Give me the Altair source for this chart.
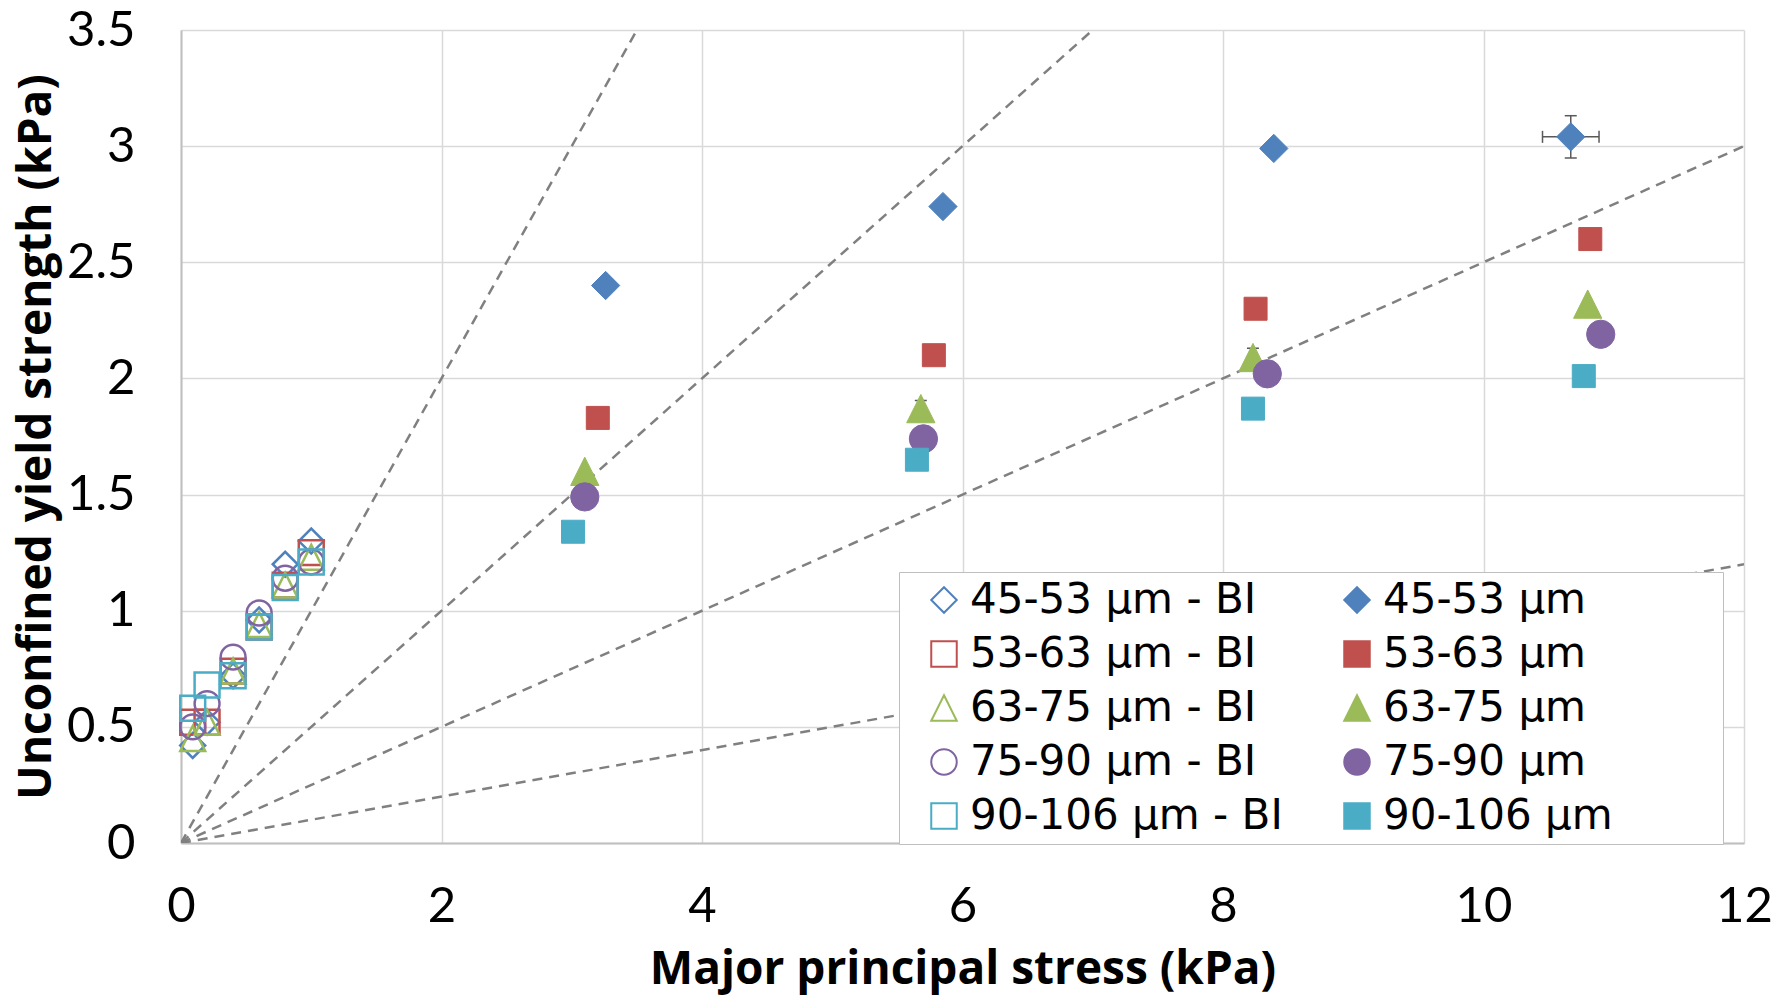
import altair as alt
import pandas as pd

FONT = "Lato"
TITLE_FONT = "Open Sans"
LEGEND_FONT = "DejaVu Sans"

# ---------------- data ----------------
sizes_bi = ["45-53 μm - BI", "53-63 μm - BI", "63-75 μm - BI", "75-90 μm - BI", "90-106 μm - BI"]
sizes_f = ["45-53 μm", "53-63 μm", "63-75 μm", "75-90 μm", "90-106 μm"]

# BI (open markers): major principal stress (kPa) and unconfined yield strength (kPa)
bi_stress = [0.09, 0.2, 0.4, 0.6, 0.8, 1.0]
bi_45 = [0.42, 0.52, 0.72, 0.96, 1.20, 1.30]
bi_53 = [0.52, 0.52, 0.74, 0.93, 1.11, 1.25]
bi_63 = [0.45, 0.52, 0.74, 0.94, 1.11, 1.23]
bi_75 = [0.50, 0.60, 0.80, 0.99, 1.14, 1.21]
bi_90 = [0.58, 0.68, 0.72, 0.93, 1.10, 1.21]

# filled markers
f45_x = [3.26, 5.85, 8.39, 10.67]
f45_y = [2.40, 2.74, 2.99, 3.04]
f53_x = [3.20, 5.78, 8.25, 10.82]
f53_y = [1.83, 2.10, 2.30, 2.60]
f63_x = [3.10, 5.68, 8.23, 10.80]
f63_y = [1.60, 1.87, 2.09, 2.32]
f75_x = [3.10, 5.70, 8.34, 10.90]
f75_y = [1.49, 1.74, 2.02, 2.19]
f90_x = [3.01, 5.65, 8.23, 10.77]
f90_y = [1.34, 1.65, 1.87, 2.01]

# error bars
exb_x = [10.67]
exb_y = [3.04]
exb_dx = [0.217]
eyb_x = [10.67, 5.68, 8.23]
eyb_y = [3.04, 1.87, 2.09]
eyb_dy = [0.091, 0.035, 0.04]

# flow function lines (ffc)
ffc_values = [1, 2, 4, 10]
X_MAX, Y_MAX = 12, 3.5

# ---------------- tables ----------------
rows = []
for name, ys in zip(sizes_bi, [bi_45, bi_53, bi_63, bi_75, bi_90]):
    for x, y in zip(bi_stress, ys):
        rows.append({"series": name, "stress": x, "strength": y})
open_df = pd.DataFrame(rows)

rows = []
for name, xs, ys in zip(sizes_f, [f45_x, f53_x, f63_x, f75_x, f90_x],
                        [f45_y, f53_y, f63_y, f75_y, f90_y]):
    for x, y in zip(xs, ys):
        rows.append({"series": name, "stress": x, "strength": y})
filled_df = pd.DataFrame(rows)

rows = []
for f in ffc_values:
    xe = min(X_MAX, Y_MAX * f)
    rows.append({"ffc": f, "stress": 0.0, "strength": 0.0})
    rows.append({"ffc": f, "stress": xe, "strength": xe / f})
line_df = pd.DataFrame(rows)

exb_df = pd.DataFrame({"y": exb_y, "lo": [a - d for a, d in zip(exb_x, exb_dx)],
                       "hi": [a + d for a, d in zip(exb_x, exb_dx)]})
eyb_df = pd.DataFrame({"x": eyb_x, "lo": [a - d for a, d in zip(eyb_y, eyb_dy)],
                       "hi": [a + d for a, d in zip(eyb_y, eyb_dy)]})

# ---------------- styles ----------------
colors = ["#4F81BD", "#C0504D", "#9BBB59", "#8064A2", "#4BACC6"]
TRI = "M0,-1L1,1L-1,1Z"
shapes = ["diamond", "square", TRI, "circle", "square"]

# legend is laid out column by column: BI series in column 1, others in column 2
legend_order = sizes_bi + sizes_f
stroke_range = colors + colors
fill_range = ["transparent"] * 5 + colors
shape_range = shapes + shapes

x_scale = alt.Scale(domain=[0, X_MAX], nice=False, zero=False)
y_scale = alt.Scale(domain=[0, Y_MAX], nice=False, zero=False)

x_axis = alt.Axis(values=[0, 2, 4, 6, 8, 10, 12], format="~g", title="Major principal stress (kPa)",
                  labelBaseline="alphabetic", labelPadding=78, labelFlush=False,
                  titleY=140, titleBaseline="alphabetic")
y_axis = alt.Axis(values=[0, 0.5, 1, 1.5, 2, 2.5, 3, 3.5], format="~g", labelFlush=False,
                  title="Unconfined yield strength (kPa)", labelPadding=46,
                  titleX=-131, titleBaseline="alphabetic")

X = alt.X("stress:Q", scale=x_scale, axis=x_axis)
Y = alt.Y("strength:Q", scale=y_scale, axis=y_axis)

# a blank (braille-blank) right-hand legend title only widens the frame, as in the original
leg = alt.Legend(title="\u2800", titleOrient="right", titlePadding=95, titleFontSize=10,
                 titleFont=LEGEND_FONT,
                 orient="none", legendX=718, legendY=542, columns=2,
                 gridAlign="each", fillColor="white", strokeColor="#bfbfbf",
                 padding=7, labelFontSize=42, labelFont=LEGEND_FONT, labelColor="black",
                 symbolSize=650, symbolStrokeWidth=2, symbolOffset=17,
                 rowPadding=12, columnPadding=36, labelOffset=5, labelLimit=0)

enc_common = dict(
    shape=alt.Shape("series:N", scale=alt.Scale(domain=legend_order, range=shape_range), legend=leg),
    fill=alt.Fill("series:N", scale=alt.Scale(domain=legend_order, range=fill_range), legend=leg),
    stroke=alt.Stroke("series:N", scale=alt.Scale(domain=legend_order, range=stroke_range), legend=leg),
)

lines = alt.Chart(line_df).mark_line(color="#808080", strokeWidth=2.5, strokeDash=[10, 7], clip=True).encode(
    x=X, y=Y, detail="ffc:N")

err_col = "#595959"
exb_rule = alt.Chart(exb_df).mark_rule(color=err_col, strokeWidth=1.5).encode(
    x=alt.X("lo:Q", scale=x_scale), x2="hi:Q", y=alt.Y("y:Q", scale=y_scale))
exb_cap_lo = alt.Chart(exb_df).mark_tick(orient="vertical", color=err_col, size=12, thickness=1.5, opacity=1).encode(
    x=alt.X("lo:Q", scale=x_scale), y=alt.Y("y:Q", scale=y_scale))
exb_cap_hi = alt.Chart(exb_df).mark_tick(orient="vertical", color=err_col, size=12, thickness=1.5, opacity=1).encode(
    x=alt.X("hi:Q", scale=x_scale), y=alt.Y("y:Q", scale=y_scale))
eyb_rule = alt.Chart(eyb_df).mark_rule(color=err_col, strokeWidth=1.5).encode(
    x=alt.X("x:Q", scale=x_scale), y=alt.Y("lo:Q", scale=y_scale), y2="hi:Q")
eyb_cap_lo = alt.Chart(eyb_df).mark_tick(orient="horizontal", color=err_col, size=12, thickness=1.5, opacity=1).encode(
    x=alt.X("x:Q", scale=x_scale), y=alt.Y("lo:Q", scale=y_scale))
eyb_cap_hi = alt.Chart(eyb_df).mark_tick(orient="horizontal", color=err_col, size=12, thickness=1.5, opacity=1).encode(
    x=alt.X("x:Q", scale=x_scale), y=alt.Y("hi:Q", scale=y_scale))

open_pts = alt.Chart(open_df).mark_point(opacity=1, strokeWidth=2.5, size=620).encode(
    x=X, y=Y, **enc_common)

filled_pts = alt.Chart(filled_df).mark_point(opacity=1, strokeWidth=1).encode(
    x=X, y=Y,
    size=alt.condition(alt.FieldOneOfPredicate(field="series", oneOf=["53-63 μm", "90-106 μm"]),
                       alt.value(529), alt.value(800)),
    **enc_common)

chart = alt.layer(lines, exb_rule, exb_cap_lo, exb_cap_hi, eyb_rule, eyb_cap_lo, eyb_cap_hi,
                  open_pts, filled_pts).properties(
    width=1563, height=813,
    autosize=alt.AutoSizeParams(type="none"),
    padding={"left": 181, "top": 30, "right": 47, "bottom": 155},
    background="white",
).configure_view(stroke=None).configure_axis(
    grid=True, gridColor="#d9d9d9", gridWidth=1.5,
    domainColor="#bfbfbf", domainWidth=2,
    ticks=False, tickSize=0,
    labelFont=FONT, labelFontSize=49, labelColor="black",
    titleFont=TITLE_FONT, titleFontSize=46, titleFontWeight="bold", titleColor="black",
)

chart.save("out.html", embed_options={"renderer": "svg", "actions": False})
